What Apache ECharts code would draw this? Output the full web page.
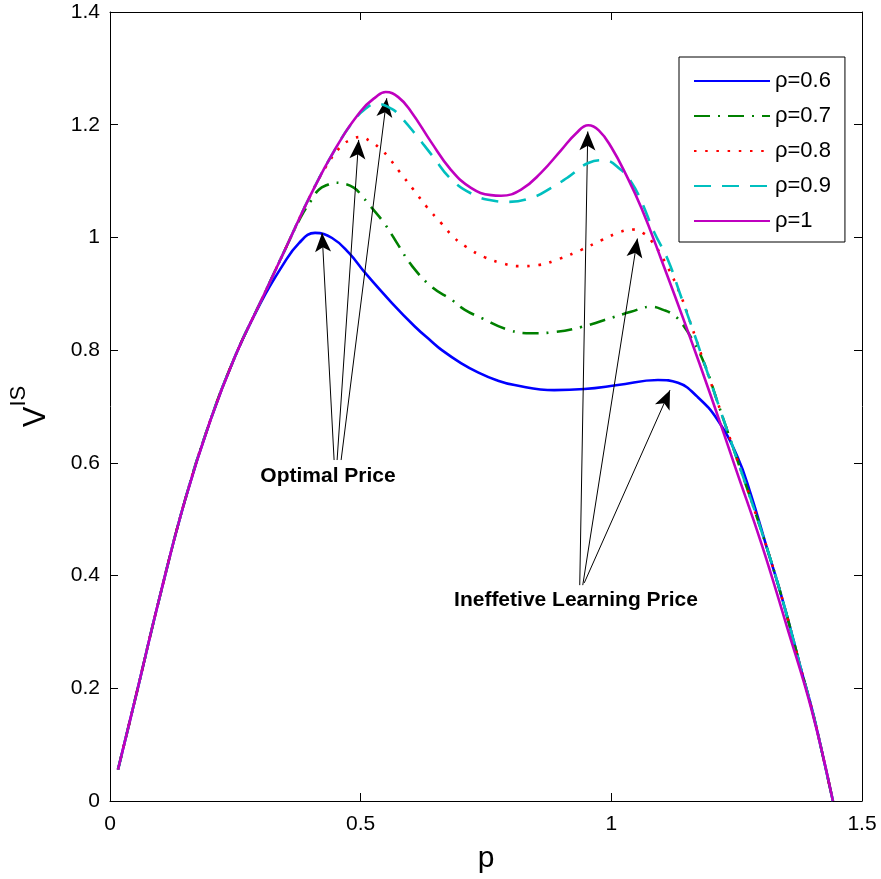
<!DOCTYPE html>
<html>
<head>
<meta charset="utf-8">
<script src="https://cdn.jsdelivr.net/npm/echarts@6/dist/echarts.min.js"></script>
<style>html,body{margin:0;padding:0;background:#fff}#c{width:881px;height:879px}</style>
</head>
<body>
<div id="c"></div>
<script>
// ---- data ----
const seriesNames = ['ρ=0.6', 'ρ=0.7', 'ρ=0.8', 'ρ=0.9', 'ρ=1'];
const xTicks = [0, 0.5, 1, 1.5];
const yTicks = [0, 0.2, 0.4, 0.6, 0.8, 1, 1.2, 1.4];

const p06 = [0.016,0.05,0.1,0.15,0.2,0.25,0.3,0.344,0.377,0.409,0.443,0.477,0.509,0.562,0.608,0.642,0.662,0.7,0.735,0.77,0.807,0.886,0.946,1.013,1.093,1.133,1.172,1.212,1.252,1.278,1.31,1.334,1.356,1.378,1.401,1.422,1.442];
const v06 = [0.056,0.18,0.365,0.535,0.675,0.79,0.883,0.950,0.990,1.008,0.999,0.972,0.937,0.884,0.842,0.815,0.800,0.777,0.760,0.747,0.738,0.729,0.731,0.738,0.747,0.742,0.717,0.676,0.61,0.545,0.45,0.38,0.31,0.235,0.16,0.08,0.0];

const p07 = [0.016,0.05,0.1,0.15,0.2,0.25,0.3,0.35,0.38,0.403,0.417,0.433,0.449,0.463,0.487,0.503,0.517,0.548,0.576,0.602,0.642,0.682,0.707,0.741,0.795,0.84,0.886,0.94,0.985,1.039,1.079,1.105,1.125,1.142,1.162,1.186,1.211,1.236,1.261,1.286,1.31,1.334,1.356,1.378,1.401,1.422,1.442];
const v07 = [0.056,0.18,0.365,0.535,0.675,0.79,0.885,0.98,1.035,1.068,1.085,1.093,1.097,1.096,1.088,1.073,1.058,1.024,0.985,0.950,0.912,0.889,0.872,0.857,0.836,0.830,0.832,0.841,0.853,0.868,0.877,0.871,0.862,0.846,0.818,0.775,0.71,0.645,0.58,0.515,0.45,0.38,0.31,0.235,0.16,0.08,0.0];

const p08 = [0.016,0.05,0.1,0.15,0.2,0.25,0.3,0.35,0.4,0.429,0.459,0.479,0.499,0.519,0.536,0.552,0.578,0.606,0.632,0.662,0.687,0.711,0.747,0.787,0.815,0.854,0.896,0.94,0.98,1.019,1.043,1.063,1.079,1.103,1.137,1.161,1.186,1.211,1.236,1.261,1.286,1.31,1.334,1.356,1.378,1.401,1.422,1.442];
const v08 = [0.056,0.18,0.365,0.535,0.675,0.79,0.885,0.98,1.075,1.123,1.160,1.173,1.178,1.171,1.160,1.146,1.116,1.084,1.054,1.024,0.999,0.983,0.965,0.953,0.949,0.951,0.962,0.978,0.995,1.010,1.014,1.008,0.995,0.963,0.90,0.84,0.775,0.71,0.645,0.58,0.515,0.45,0.38,0.31,0.235,0.16,0.08,0.0];

const p09 = [0.016,0.05,0.1,0.15,0.2,0.25,0.3,0.35,0.4,0.45,0.483,0.509,0.532,0.562,0.582,0.612,0.642,0.682,0.727,0.76,0.795,0.846,0.88,0.914,0.954,0.985,1.019,1.04,1.059,1.085,1.113,1.137,1.161,1.186,1.211,1.236,1.261,1.286,1.31,1.334,1.356,1.378,1.401,1.422,1.442];
const v09 = [0.056,0.18,0.365,0.535,0.675,0.79,0.885,0.98,1.075,1.158,1.203,1.228,1.237,1.228,1.212,1.18,1.146,1.102,1.075,1.066,1.063,1.072,1.088,1.107,1.132,1.137,1.12,1.098,1.066,1.01,0.96,0.90,0.84,0.775,0.71,0.645,0.58,0.515,0.45,0.38,0.31,0.235,0.16,0.08,0.0];

const p10 = [0.016,0.05,0.1,0.15,0.2,0.25,0.3,0.35,0.4,0.45,0.5,0.53,0.55,0.575,0.6,0.64,0.68,0.72,0.76,0.78,0.82,0.86,0.9,0.93,0.954,0.975,1.0,1.03,1.06,1.1,1.15,1.2,1.25,1.3,1.35,1.4,1.442];
const v10 = [0.056,0.18,0.365,0.535,0.675,0.79,0.885,0.98,1.075,1.158,1.224,1.249,1.258,1.249,1.224,1.17,1.12,1.088,1.075,1.074,1.085,1.115,1.155,1.185,1.199,1.19,1.16,1.11,1.052,0.96,0.84,0.715,0.585,0.455,0.31,0.16,0.0];

// annotation arrows (data coordinates): start near the label, end at the marked peak
const optStart = [[0.447,0.605],[0.453,0.605],[0.461,0.605]];
const optEnd   = [[0.423,1.008],[0.496,1.173],[0.552,1.247]];
const ineStart = [[0.937,0.383],[0.943,0.383],[0.946,0.387]];
const ineEnd   = [[0.953,1.188],[1.052,0.998],[1.117,0.729]];
const annText = ['Optimal Price', 'Ineffetive Learning Price'];

// ---- chart ----
const FONT = 'Liberation Sans, Arial, sans-serif';
function zip(a, b) { return a.map((x, i) => [x, b[i]]); }

const styles = [
  { color: '#0000FF', type: 'solid' },
  { color: '#008000', type: [16, 8, 2, 8] },
  { color: '#FF0000', type: [2.5, 8.7] },
  { color: '#00BFBF', type: [17, 11] },
  { color: '#BF00BF', type: 'solid' }
];
const ps = [p06, p07, p08, p09, p10];
const vs = [v06, v07, v08, v09, v10];

const series = seriesNames.map((name, i) => ({
  name: name,
  type: 'line',
  data: zip(ps[i], vs[i]),
  showSymbol: false,
  symbol: 'none',
  smooth: 0.45,
  color: styles[i].color,
  itemStyle: { color: styles[i].color },
  lineStyle: { color: styles[i].color, width: 2.6, type: styles[i].type },
  z: 2 + i,
  animation: false
}));

const arrows = [];
optStart.forEach((s, i) => arrows.push([{ coord: s }, { coord: optEnd[i] }]));
ineStart.forEach((s, i) => arrows.push([{ coord: s }, { coord: ineEnd[i] }]));

series.push({
  name: 'annotations',
  type: 'line',
  data: [],
  animation: false,
  z: 20,
  markLine: {
    silent: true,
    animation: false,
    symbol: ['none', 'arrow'],
    symbolSize: [12, 19],
    label: { show: false },
    lineStyle: { color: '#000', width: 1, type: 'solid' },
    emphasis: { disabled: true },
    data: arrows
  }
});

const axisCommon = {
  type: 'value',
  axisLine: { show: true, onZero: false, lineStyle: { color: '#000', width: 1 } },
  axisTick: { show: true, inside: true, length: 8, lineStyle: { color: '#000', width: 1 } },
  splitLine: { show: false }
};

const chart = echarts.init(document.getElementById('c'), null, { renderer: 'canvas' });
chart.setOption({
  animation: false,
  backgroundColor: '#fff',
  grid: { left: 107, right: 19, top: 12, bottom: 78, containLabel: false },
  legend: {
    show: true,
    data: seriesNames,
    orient: 'vertical',
    left: 679,
    top: 57,
    padding: [12, 14, 9, 14],
    itemWidth: 76,
    itemHeight: 14,
    itemGap: 11,
    borderColor: '#000',
    borderWidth: 1,
    backgroundColor: '#fff',
    itemStyle: { opacity: 0 },
    lineStyle: { opacity: 1 },
    textStyle: { fontFamily: FONT, fontSize: 22, color: '#000', lineHeight: 24 },
    selectedMode: false,
    z: 30
  },
  xAxis: [
    Object.assign({}, axisCommon, {
      min: xTicks[0], max: xTicks[xTicks.length - 1], interval: 0.5,
      position: 'bottom',
      name: 'p', nameLocation: 'middle', nameGap: 43,
      nameTextStyle: { fontFamily: FONT, fontSize: 30, color: '#000' },
      axisLabel: { show: true, margin: 13, fontFamily: FONT, fontSize: 21, color: '#000' }
    }),
    Object.assign({}, axisCommon, {
      min: xTicks[0], max: xTicks[xTicks.length - 1], interval: 0.5,
      position: 'top', axisLabel: { show: false }
    })
  ],
  yAxis: [
    Object.assign({}, axisCommon, {
      min: yTicks[0], max: yTicks[yTicks.length - 1], interval: 0.2,
      position: 'left',
      name: '{v|V}{s|IS}', nameLocation: 'middle', nameGap: 58, nameRotate: 90,
      nameTextStyle: {
        rich: {
          v: { fontFamily: FONT, fontSize: 31, color: '#000', lineHeight: 44, verticalAlign: 'bottom' },
          s: { fontFamily: FONT, fontSize: 22, color: '#000', lineHeight: 22, verticalAlign: 'top' }
        }
      },
      axisLabel: { show: true, margin: 10, fontFamily: FONT, fontSize: 21, color: '#000' }
    }),
    Object.assign({}, axisCommon, {
      min: yTicks[0], max: yTicks[yTicks.length - 1], interval: 0.2,
      position: 'right', axisLabel: { show: false }
    })
  ],
  graphic: [
    { type: 'text', x: 328, y: 476, z: 40, style: { text: annText[0], font: 'bold 21px ' + FONT, fill: '#000', align: 'center', verticalAlign: 'middle' } },
    { type: 'text', x: 576, y: 600, z: 40, style: { text: annText[1], font: 'bold 21px ' + FONT, fill: '#000', align: 'center', verticalAlign: 'middle' } }
  ],
  series: series
});
</script>
</body>
</html>
